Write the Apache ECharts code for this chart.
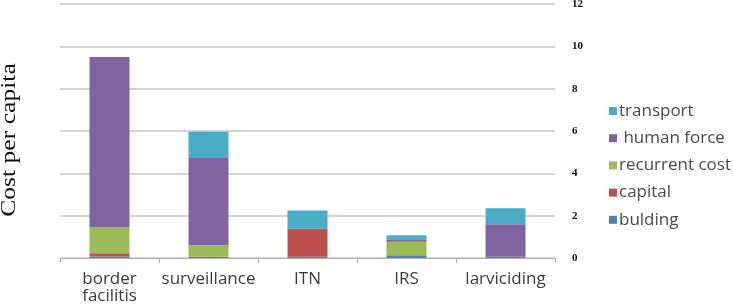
<!DOCTYPE html>
<html>
<head>
<meta charset="utf-8">
<script src="https://cdn.jsdelivr.net/npm/echarts@6/dist/echarts.min.js"></script>
<style>html,body{margin:0;padding:0;background:#fff}#c{width:733px;height:306px}</style>
</head>
<body>
<div id="c"></div>
<script>
const categories = ['border\nfacilitis', 'surveillance', 'ITN', 'IRS', 'larviciding'];
const bulding = [0.07, 0.06, 0.06, 0.13, 0.06];
const capital = [0.16, 0, 1.32, 0, 0];
const recurrentCost = [1.23, 0.54, 0, 0.64, 0];
const humanForce = [8.04, 4.13, 0, 0.11, 1.53];
const transport = [0, 1.24, 0.87, 0.2, 0.76];
const yTicks = [0, 2, 4, 6, 8, 10, 12];

const chart = echarts.init(document.getElementById('c'), null, {renderer: 'canvas'});
const mk = (name, data, color) => ({
  name, type: 'bar', stack: 'total', data, barWidth: 40,
  itemStyle: {color}, emphasis: {disabled: true}
});
chart.setOption({
  animation: false,
  grid: {left: 60, right: 178, top: 4, bottom: 48, outerBoundsMode: 'none'},
  graphic: [{
    type: 'text', x: 10, y: 140, rotation: Math.PI / 2, scaleX: 1.28, scaleY: 1,
    style: {text: 'Cost per capita', font: '20px "Liberation Serif"', fill: '#111',
      textAlign: 'center', textVerticalAlign: 'middle'}
  }],
  legend: {
    orient: 'vertical', left: 604, top: 97,
    itemWidth: 8, itemHeight: 8, itemGap: 9.2,
    icon: 'rect',
    data: ['transport', ' human force', 'recurrent cost', 'capital', 'bulding'],
    textStyle: {fontFamily: 'Open Sans', fontSize: 17, color: '#4a4a4a', lineHeight: 18, padding: [0, 0, 0, -3]}
  },
  xAxis: {
    type: 'category', data: categories,
    axisLine: {lineStyle: {color: '#b0b0b0', width: 1}},
    axisTick: {show: true, length: 5, lineStyle: {color: '#b0b0b0'}},
    axisLabel: {interval: 0, fontFamily: 'Open Sans', fontSize: 17, color: '#3c3c3c', margin: 13, lineHeight: 17}
  },
  yAxis: {
    type: 'value', position: 'right', min: yTicks[0], max: yTicks[yTicks.length - 1], interval: 2,
    axisLine: {show: false}, axisTick: {show: false},
    splitLine: {lineStyle: {color: '#c6c6c6', width: 1.5}},
    axisLabel: {margin: 17, align: 'left',
      fontFamily: 'Liberation Serif', fontWeight: 'bold', fontSize: 11, color: '#111'}
  },
  series: [
    mk('bulding', bulding, '#4F81BD'),
    mk('capital', capital, '#C0504D'),
    mk('recurrent cost', recurrentCost, '#9BBB59'),
    mk(' human force', humanForce, '#8064A2'),
    mk('transport', transport, '#4BACC6')
  ]
});
</script>
</body>
</html>
